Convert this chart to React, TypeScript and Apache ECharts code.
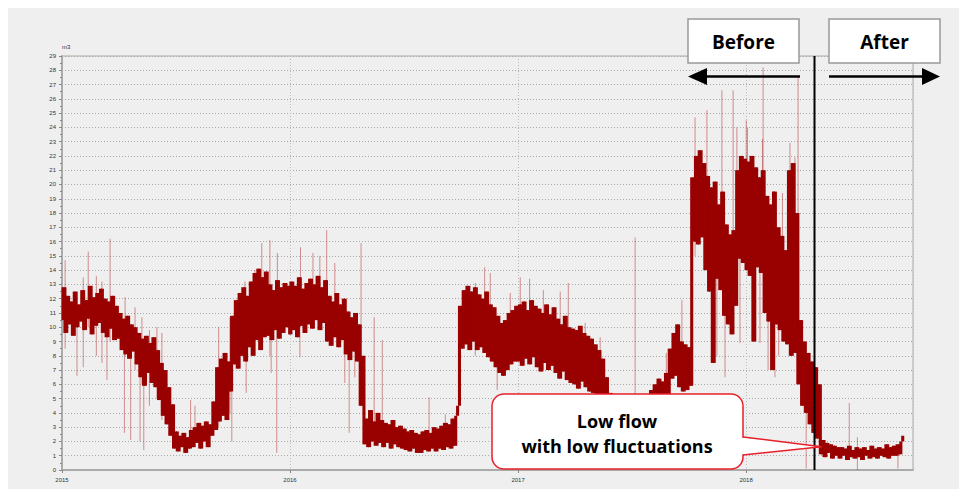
import React, { useEffect, useRef } from "react";
import * as echarts from "echarts";

// ---- data (m3), one value every 3 days from Jan 1 of each year ----
const flow2015 = [
  10.5, 12.8, 9.6, 12.2, 10.2, 11.8, 9.4, 12.5, 10.0, 11.6,
  10.4, 12.6, 9.8, 11.9, 10.6, 12.9, 9.5, 12.1, 10.1, 12.4,
  10.3, 12.7, 9.6, 12.0, 9.3, 11.8, 9.9, 12.2, 9.1, 11.5,
  9.2, 11.0, 8.4, 10.6, 8.1, 10.8, 7.8, 10.2, 8.3, 10.0,
  7.4, 9.6, 6.5, 9.2, 5.9, 9.4, 6.8, 8.9, 6.1, 9.3,
  5.8, 8.4, 4.9, 7.5, 3.8, 7.0, 3.2, 5.8, 2.4, 4.6,
  1.5, 2.7, 1.3, 2.4, 1.6, 2.6, 1.2, 2.3, 1.5, 2.8,
  1.6, 3.0, 1.9, 3.3, 1.5, 3.1, 2.0, 3.4, 1.6, 3.2,
  2.4, 4.8, 2.8, 7.2, 3.4, 7.8, 3.8, 8.2, 3.5, 7.6,
  5.5, 10.8, 7.4, 11.9, 7.1, 12.4, 8.0, 12.8, 7.6, 12.2,
  8.6, 13.2, 8.0, 13.8, 9.1, 14.1, 8.4, 13.5, 9.3, 13.9,
  9.4, 13.0, 9.1, 12.6, 9.8, 13.3, 9.2, 12.8, 9.6, 13.1, 10.0, 12.9,
];
const flow2016 = [
  9.5, 13.2, 9.8, 12.9, 9.3, 13.5, 10.1, 12.7, 9.6, 13.1,
  10.2, 13.4, 9.9, 13.0, 10.5, 13.6, 9.8, 12.8, 10.3, 13.3,
  9.0, 12.2, 8.7, 11.8, 9.3, 12.4, 8.6, 11.6, 9.1, 12.0,
  8.1, 11.1, 7.7, 10.7, 8.3, 11.0, 7.6, 10.2, 4.5, 8.0,
  1.8, 3.6, 1.6, 4.2, 2.0, 3.4, 1.7, 4.0, 1.9, 3.5,
  1.6, 3.3, 1.9, 3.2, 1.5, 3.5, 1.8, 3.0, 1.6, 3.1,
  1.5, 2.9, 1.4, 2.7, 1.3, 2.8, 1.5, 2.6, 1.2, 2.5,
  1.2, 2.7, 1.4, 2.8, 1.3, 2.6, 1.5, 3.0, 1.3, 2.9,
  1.5, 3.1, 1.4, 3.3, 1.6, 3.2, 1.5, 3.6, 1.7, 3.8,
  4.5, 11.5, 8.5, 12.6, 8.8, 12.9, 8.4, 12.5, 9.0, 12.8,
  8.4, 12.3, 8.6, 12.0, 8.2, 12.5, 7.9, 11.6, 7.6, 11.4,
  7.2, 10.8, 6.8, 10.3, 6.6, 10.5, 7.0, 11.0, 7.4, 11.2, 7.6, 11.5,
];
const flow2017 = [
  7.6, 11.6, 7.3, 11.8, 7.8, 11.2, 7.4, 11.9, 7.9, 11.5,
  7.2, 11.3, 6.9, 11.0, 7.5, 11.6, 7.0, 10.9, 7.3, 11.4,
  6.8, 10.6, 6.4, 10.2, 6.9, 10.8, 6.3, 10.0, 6.1, 9.9,
  6.0, 9.8, 5.7, 10.1, 6.2, 9.6, 5.8, 9.4, 5.5, 9.2,
  5.4, 8.8, 5.0, 8.4, 4.6, 7.8, 3.8, 6.5, 3.0, 5.4,
  2.0, 4.2, 2.4, 4.5, 2.1, 4.0, 2.5, 4.3, 2.2, 4.1,
  2.3, 4.4, 2.6, 4.8, 2.5, 4.6, 2.8, 5.0, 2.7, 5.2,
  3.0, 5.6, 3.2, 6.0, 3.4, 6.4, 3.5, 6.2, 3.8, 6.8,
  4.5, 8.5, 6.4, 9.6, 6.6, 10.2, 5.8, 9.0, 5.5, 8.8,
  5.6, 8.6, 5.9, 20.5, 16.0, 22.0, 15.8, 22.4, 16.3, 21.5,
  14.0, 20.6, 12.5, 19.8, 7.5, 20.2, 13.4, 18.6, 12.6, 19.5,
  10.8, 17.2, 10.2, 16.5, 9.5, 16.8, 11.5, 21.0, 14.8, 22.0, 14.5, 21.8,
];
const flow2018 = [
  14.0, 21.6, 13.6, 22.0, 9.0, 21.2, 14.2, 20.5, 13.8, 21.0,
  11.0, 19.2, 10.4, 18.6, 7.0, 19.5, 10.2, 17.0, 9.8, 16.4,
  9.0, 15.4, 8.8, 21.0, 8.0, 21.5, 8.2, 18.0, 6.0, 10.5,
  4.5, 9.0, 4.0, 8.2, 3.2, 7.6, 2.6, 7.2, 2.2, 6.0,
  1.1, 2.1, 0.9, 1.9, 1.2, 1.8, 0.8, 1.7, 1.0, 1.6,
  0.8, 1.6, 1.0, 1.5, 0.7, 1.7, 0.9, 1.4, 0.8, 1.6,
  0.9, 1.5, 0.7, 1.6, 1.0, 1.4, 0.8, 1.7, 0.9, 1.5,
  0.8, 1.6, 1.0, 1.5, 0.9, 1.8, 0.8, 1.6, 1.0, 1.7,
  1.0, 1.8, 1.1, 2.0, 2.4,
];

// isolated peaks: [year, day of year, low, high]
const peaks = [
  [2015, 5, 8.5, 14.7], [2015, 24, 6.6, 11.5], [2015, 34, 7.2, 13.5], [2015, 42, 10, 15.3],
  [2015, 55, 8, 13.6], [2015, 64, 7.5, 13.2],
  [2015, 72, 6.3, 11.5], [2015, 77, 9, 16.2], [2015, 100, 2.6, 9], [2015, 101, 8, 12.1],
  [2015, 110, 2.1, 9.5], [2015, 117, 7, 11.4], [2015, 125, 2.0, 8], [2015, 128, 6, 10.7],
  [2015, 131, 1.4, 8], [2015, 140, 4.5, 9.8], [2015, 152, 5, 10], [2015, 160, 3.5, 9.6],
  [2015, 206, 2, 4.9], [2015, 213, 2, 4.5],
  [2015, 251, 3, 10], [2015, 269, 4, 10.7], [2015, 272, 2.0, 6], [2015, 293, 8, 13.2],
  [2015, 295, 5.4, 10], [2015, 309, 9, 14], [2015, 320, 9, 15.9], [2015, 333, 8, 16.1],
  [2015, 335, 6.8, 12], [2015, 344, 1.2, 10], [2015, 345, 10, 15.2],
  [2016, 16, 7.9, 12], [2016, 17, 10, 15.6], [2016, 37, 11, 15.2], [2016, 48, 10, 15],
  [2016, 59, 11, 16.8], [2016, 72, 11, 14.5], [2016, 88, 6.1, 10], [2016, 95, 2.6, 9],
  [2016, 104, 6.5, 10.5],
  [2016, 114, 9, 15.9], [2016, 135, 3, 10.7], [2016, 148, 2.5, 9.1], [2016, 223, 1.5, 5.1],
  [2016, 249, 2, 3.9], [2016, 297, 8, 13.1], [2016, 312, 9, 14.2], [2016, 321, 9, 13.8],
  [2016, 332, 5.6, 9], [2016, 353, 8, 12.4],
  [2017, 3, 8, 13.5], [2017, 18, 8, 13.4], [2017, 40, 7, 12.6], [2017, 67, 7.2, 12.5], [2017, 80, 7, 13.1],
  [2017, 107, 6, 10.3], [2017, 131, 5, 9.3], [2017, 187, 2, 16.3], [2017, 216, 2.5, 6],
  [2017, 237, 5, 8.2], [2017, 262, 7, 11.9], [2017, 283, 15, 24.7], [2017, 302, 16, 25.2],
  [2017, 310, 7.7, 16], [2017, 318, 8, 16], [2017, 326, 18, 26.6], [2017, 331, 6.5, 13],
  [2017, 344, 15, 26.6], [2017, 350, 15, 24], [2017, 355, 8.9, 15],
  [2018, 0, 16, 24.5], [2018, 2, 15, 24], [2018, 10, 9, 15], [2018, 22, 8.9, 15],
  [2018, 26, 14, 23.2], [2018, 27, 15, 28.2], [2018, 35, 7, 14], [2018, 46, 6.5, 12],
  [2018, 52, 8, 15], [2018, 58, 10, 19.4], [2018, 70, 12, 22.9], [2018, 78, 10, 21.9],
  [2018, 83, 14, 27.5], [2018, 96, 0.1, 4], [2018, 165, 1, 4.7], [2018, 178, 0, 2.3],
  [2018, 243, 0.1, 1.5],
];

const yearLabels = ["2015", "2016", "2017", "2018"];

const DAY = 86400000;
const YEAR = 365.25 * DAY;
const START = Date.UTC(2015, 0, 1);
const STEP_DAYS = 3;

function yearSeries(year: number, vals: number[]) {
  const base = Date.UTC(year, 0, 1);
  return vals.map((v, i) => [base + i * STEP_DAYS * DAY, v]);
}

export default function App() {
  const ref = useRef<HTMLDivElement>(null);
  useEffect(() => {
    if (!ref.current) return;
    const chart = echarts.init(ref.current, undefined, { renderer: "svg" });
    const core = [
      ...yearSeries(2015, flow2015),
      ...yearSeries(2016, flow2016),
      ...yearSeries(2017, flow2017),
      ...yearSeries(2018, flow2018),
    ];
    // each reading paired with the next one: the band between them is filled
    const bandData = core.slice(0, -1).map((p, i) => [p[0], p[1], core[i + 1][0], core[i + 1][1]]);
    const peakData = peaks.map((p) => [Date.UTC(p[0], 0, 1) + p[1] * DAY, p[2], p[3]]);
    const red = "#990000";
    const font = '"Open Sans", "DejaVu Sans", sans-serif';

    chart.setOption({
      animation: false,
      backgroundColor: "#ffffff",
      grid: {
        left: 62, top: 56, width: 851, height: 414,
        show: true, borderColor: "#aaaaaa", borderWidth: 1, containLabel: false,
      },
      xAxis: {
        type: "value",
        min: START,
        max: START + 3.732 * YEAR,
        interval: YEAR,
        axisLine: { show: true, lineStyle: { color: "#aaaaaa", width: 2 } },
        axisTick: { show: true, length: 3, lineStyle: { color: "#888" } },
        axisLabel: {
          fontSize: 6, color: "#333", margin: 7, showMaxLabel: false,
          formatter: (v: number) => {
            const y = (v - START) / YEAR;
            const r = Math.round(y);
            return Math.abs(y - r) < 0.01 && r < yearLabels.length ? yearLabels[r] : "";
          },
        },
        splitLine: { show: true, lineStyle: { color: "#bbbbbb", type: [1, 2], width: 1 } },
      },
      yAxis: {
        type: "value",
        min: 0, max: 29, interval: 1,
        axisLine: { show: true, lineStyle: { color: "#aaaaaa", width: 2 } },
        axisTick: { show: true, length: 3, inside: false, lineStyle: { color: "#888" } },
        minorTick: { show: true, splitNumber: 2, length: 2, lineStyle: { color: "#888" } },
        axisLabel: { fontSize: 6, color: "#333", margin: 6 },
        splitLine: { show: true, lineStyle: { color: "#aaaaaa", type: [1, 2], width: 1 } },
      },
      series: [
        {
          type: "custom",
          z: 1,
          data: peakData,
          encode: { x: 0, y: [1, 2] },
          renderItem: (params: any, api: any) => {
            const p1 = api.coord([api.value(0), api.value(1)]);
            const p2 = api.coord([api.value(0), api.value(2)]);
            return {
              type: "line",
              shape: { x1: p1[0], y1: p1[1], x2: p2[0], y2: p2[1] },
              style: { stroke: "rgba(170,20,20,0.45)", lineWidth: 1 },
            };
          },
        },
        {
          type: "custom",
          z: 2,
          data: bandData,
          encode: { x: [0, 2], y: [1, 3] },
          renderItem: (params: any, api: any) => {
            const a = api.coord([api.value(0), api.value(1)]);
            const b = api.coord([api.value(2), api.value(3)]);
            const top = Math.min(a[1], b[1]);
            return {
              type: "rect",
              shape: { x: a[0] - 0.5, y: top, width: Math.max(b[0] - a[0], 0.5) + 1.2, height: Math.abs(b[1] - a[1]) },
              style: { fill: red },
            };
          },
        },
      ],
      graphic: [
        { type: "rect", z: -10, shape: { x: 8, y: 8, width: 951, height: 481 }, style: { fill: "#efefef" } },
        { type: "text", z: 10, style: { text: "m3", x: 62, y: 47, fontSize: 6, fill: "#333", textVerticalAlign: "middle" } },
        // before/after divider
        { type: "line", z: 50, shape: { x1: 814.5, y1: 56, x2: 814.5, y2: 470 }, style: { stroke: "#000", lineWidth: 2 } },
        // Before box
        { type: "rect", z: 50, shape: { x: 688, y: 19, width: 111, height: 44 }, style: { fill: "#fff", stroke: "#999", lineWidth: 1.5 } },
        { type: "text", z: 51, style: { text: "Before", x: 743.5, y: 42, textAlign: "center", textVerticalAlign: "middle", font: `bold 19px ${font}`, fill: "#000" } },
        // After box
        { type: "rect", z: 50, shape: { x: 829, y: 19, width: 111, height: 44 }, style: { fill: "#fff", stroke: "#999", lineWidth: 1.5 } },
        { type: "text", z: 51, style: { text: "After", x: 884.5, y: 42, textAlign: "center", textVerticalAlign: "middle", font: `bold 19px ${font}`, fill: "#000" } },
        // arrows
        { type: "line", z: 50, shape: { x1: 800, y1: 76.5, x2: 700, y2: 76.5 }, style: { stroke: "#000", lineWidth: 2.5 } },
        { type: "polygon", z: 50, shape: { points: [[688, 76.5], [707, 68], [707, 85]] }, style: { fill: "#000" } },
        { type: "line", z: 50, shape: { x1: 829, y1: 76.5, x2: 928, y2: 76.5 }, style: { stroke: "#000", lineWidth: 2.5 } },
        { type: "polygon", z: 50, shape: { points: [[940, 76.5], [922, 68], [922, 85]] }, style: { fill: "#000" } },
        // callout
        { type: "rect", z: 60, shape: { x: 492, y: 394, width: 251, height: 75, r: 12 }, style: { fill: "#fff", stroke: "#e8202a", lineWidth: 1.5 } },
        { type: "polygon", z: 61, shape: { points: [[740, 437.5], [821.5, 446.7], [740, 454.5]] }, style: { fill: "#fff" } },
        { type: "polyline", z: 62, shape: { points: [[743, 437], [821.5, 446.7], [743, 455]] }, style: { stroke: "#e8202a", lineWidth: 1.5, fill: null } },
        { type: "text", z: 63, style: { text: "Low flow", x: 617, y: 421, textAlign: "center", textVerticalAlign: "middle", font: `bold 18px ${font}`, fill: "#000" } },
        { type: "text", z: 63, style: { text: "with low fluctuations", x: 617, y: 446, textAlign: "center", textVerticalAlign: "middle", font: `bold 18px ${font}`, fill: "#000" } },
      ],
    });
    return () => chart.dispose();
  }, []);
  return (
    <div
      ref={ref}
      style={{ position: "absolute", left: 0, top: 0, width: 967, height: 497, background: "#fff" }}
    />
  );
}
